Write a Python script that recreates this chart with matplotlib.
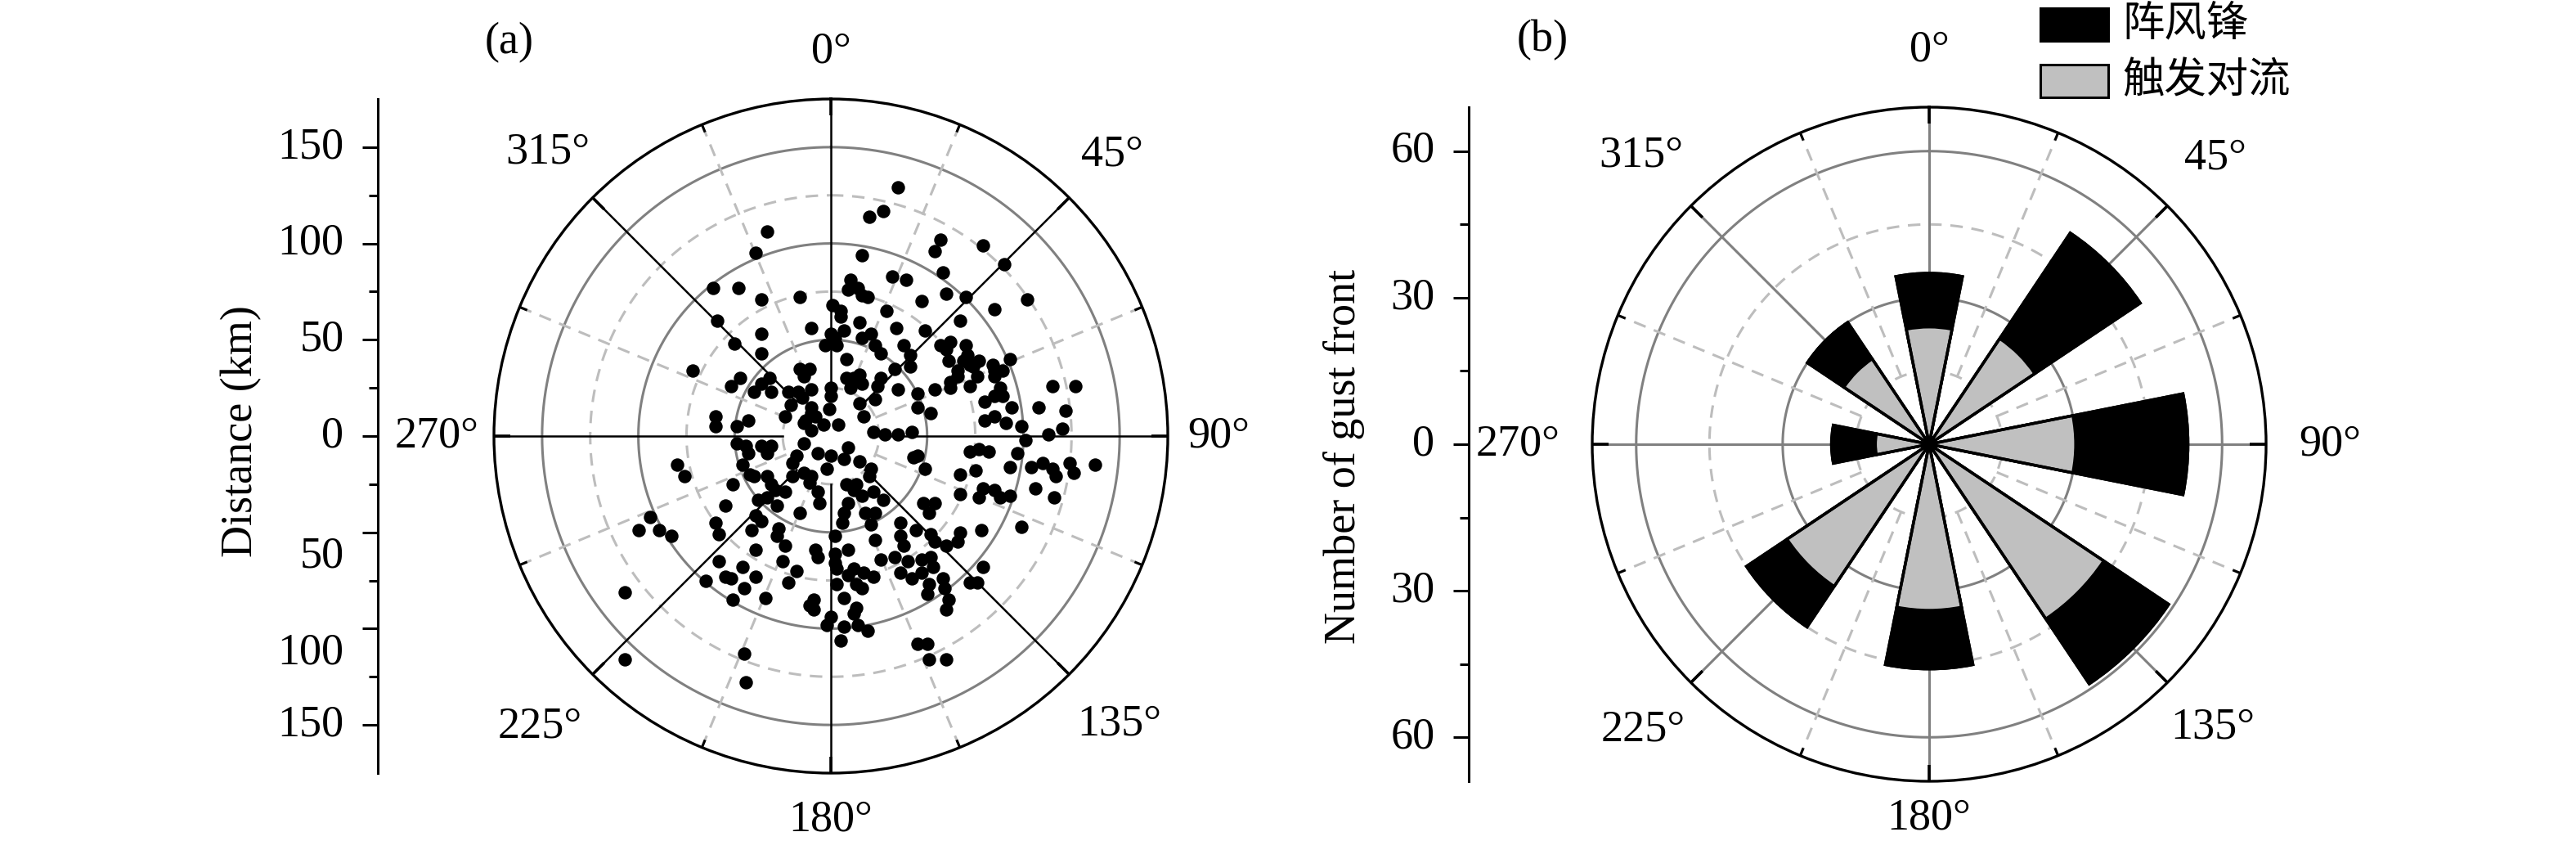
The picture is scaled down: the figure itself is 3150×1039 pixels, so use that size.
import numpy as np
import matplotlib
matplotlib.use("Agg")
import matplotlib.pyplot as plt
from matplotlib.patches import Rectangle

plt.rcParams['font.family'] = ['Liberation Serif', 'Noto Sans CJK SC']

# ---- panel (a): gust front positions, east / north offset in km ----
east_km = [35, 27, 20, -33, -39, 57, 54, 79, 16, 90, 58, 32, 39, -61, -48, -36, -16, 10, 9, 14,
           16, 19, 60, 70, 102, 47, 1, 5, 5, 29, 85, -59, 15, -10, 34, 67, 7, -36, 49, 21,
           16, 0, 2, -50, -3, 3, 23, 38, 57, 62, 70, -36, 26, 8, 41, 60, 71, 61, 69, 72,
           77, 74, 84, 93, 41, 33, -16, -11, -14, -72, 66, 66, 62, 76, 85, 89, 85, 15, 8, 12,
           16, 10, 26, -47, -52, -36, -32, -40, -31, -22, -17, -10, 0, 24, 35, 54, 62, 72, 88, 115,
           127, 45, 85, 89, 80, 0, -15, -21, -10, -1, 15, 23, 45, 94, 108, -10, 122, 52, -60, -43,
           -24, -13, -8, 17, 80, 85, 91, -60, -49, -14, -4, 4, 99, 120, -10, 22, 28, 35, 42, 113,
           -49, -44, -36, -31, -43, -33, -46, -42, -33, -40, -80, -76, -51, -31, -29, -24, -38, -33, -55, -28,
           -39, -36, -16, -94, -100, -89, -83, -60, -58, -41, -27, -28, -24, -39, -58, -46, -25, -18, -55, -52,
           -39, -65, -22, -45, -34, -51, -107, -9, -11, -9, -107, -45, -44, -14, -7, 0, 9, 7, 15, -18,
           -20, -2, -14, -10, -20, -11, 21, 20, 8, 13, 12, 16, 22, 27, -7, -6, 9, 7, 6, 18,
           23, 21, 2, 23, 36, 36, 44, 52, -8, -7, 2, 2, 9, 3, 12, 26, 33, 38, 40, 47,
           52, 54, 60, 66, 67, 53, 36, 42, 47, 22, 17, 9, 13, 16, 3, 58, 59, 51, 50, 61,
           60, 7, 13, 12, 0, -2, 7, 14, 19, 5, 45, 50, 51, 60, 43, 45, 49, 48, 54, 51,
           72, 77, 82, 75, 67, 67, 77, 79, 85, 88, 93, 78, 97, 93, 104, 110, 115, 117, 124, 126,
           137, 106, 116, 99, 79, 72, 76, 101]
north_km = [129, 117, 114, 106, 95, 102, 96, 99, 94, 89, 85, 83, 81, 77, 77, 71, 72, 81, 76, 77,
            73, 72, 74, 72, 71, 70, 68, 65, 62, 65, 66, 60, 59, 56, 56, 60, 55, 53, 55, 53,
            51, 53, 51, 48, 47, 47, 47, 47, 47, 49, 47, 43, 43, 40, 42, 45, 42, 39, 39, 37,
            39, 36, 37, 40, 36, 35, 35, 35, 31, 34, 34, 31, 28, 31, 34, 34, 31, 32, 30, 30,
            27, 25, 30, 30, 26, 27, 30, 23, 23, 23, 23, 24, 25, 26, 24, 24, 25, 26, 25, 26,
            26, 22, 21, 21, 18, 21, 20, 16, 15, 14, 17, 19, 15, 15, 15, 12, 13, 12, 10, 8,
            10, 8, 10, 10, 8, 10, 7, 5, 5, 7, 6, 6, 5, 4, 3, 2, 1, 1, 2, 1,
            -4, -5, -5, -5, -9, -9, -15, -20, -21, -21, -15, -21, -25, -25, -28, -29, -33, -32, -36, -36,
            -41, -44, -40, -42, -49, -49, -52, -45, -51, -49, -48, -52, -57, -59, -65, -68, -65, -70, -73, -74,
            -73, -75, -76, -79, -84, -85, -81, -85, -88, -90, -116, -113, -128, -4, -9, -10, -6, -12, -13, -10,
            -14, -17, -19, -21, -21, -24, -17, -21, -25, -25, -28, -31, -29, -33, -29, -35, -35, -40, -45, -40,
            -40, -46, -52, -54, -45, -52, -49, -51, -59, -63, -61, -66, -59, -69, -69, -64, -63, -57, -65, -64,
            -63, -55, -57, -55, -50, -68, -71, -74, -71, -73, -71, -72, -77, -79, -77, -74, -79, -77, -82, -85,
            -90, -84, -89, -92, -94, -98, -99, -98, -101, -106, -108, -108, -116, -116, -11, -10, -17, -35, -35, -40,
            -8, -7, -8, -18, -20, -30, -32, -27, -28, -32, -31, -49, -9, -16, -16, -14, -17, -21, -14, -19,
            -15, -27, -32, -47, -68, -76, -76, -2]

# ---- panel (b): counts per direction ----
directions = [0, 45, 90, 135, 180, 225, 270, 315]
gust_front = [35, 52, 53, 59, 46, 45, 20, 30]
triggered = [24, 26, 30, 43, 34, 35, 11, 21]

angle_labels = ['0°', '45°', '90°', '135°', '180°', '225°', '270°', '315°']
dist_ticks = [-150, -100, -50, 0, 50, 100, 150]
count_ticks = [-60, -30, 0, 30, 60]

R_A = 175
R_B = 69
GRAY = '#808080'
LIGHT = '#bdbdbd'
FS = 39

fig = plt.figure(figsize=(31.5, 10.39), dpi=100)


def polar_frame(ax, rmax, step, spoke_color, spoke_lw, label_r):
    ax.set_theta_zero_location('N')
    ax.set_theta_direction(-1)
    ax.set_ylim(0, rmax)
    ax.set_xticks([])
    ax.set_yticks([])
    ax.grid(False)
    ax.spines['polar'].set_linewidth(2.4)
    th = np.linspace(0, 2 * np.pi, 721)
    for k in range(1, 7):
        r = k * step / 2
        if k % 2 == 0:
            ax.plot(th, np.full_like(th, r), color=GRAY, lw=2.2, zorder=1)
        else:
            ax.plot(th, np.full_like(th, r), color=LIGHT, lw=2.2, dashes=(5, 3.5), zorder=1)
    for d in range(0, 360, 45):
        t = np.deg2rad(d)
        ax.plot([t, t], [step / 2, rmax], color=spoke_color, lw=spoke_lw, zorder=1.5)
        ax.plot([t, t], [rmax * (1 - 20 / 412), rmax], color='black', lw=2.6, zorder=3,
                solid_capstyle='butt')
        t2 = np.deg2rad(d + 22.5)
        ax.plot([t2, t2], [step / 2, rmax], color=LIGHT, lw=2.2, dashes=(5, 3.5), zorder=1)
        ax.plot([t2, t2], [rmax * (1 - 10 / 412), rmax], color='black', lw=2.2, zorder=3,
                solid_capstyle='butt')
    for d, lab, f in zip(directions, angle_labels, label_r):
        ax.text(np.deg2rad(d), rmax * f, lab, ha='center', va='center', fontsize=FS,
                clip_on=False)


# ---- (a) scatter ----
axa = fig.add_axes([0.19175, 0.09047, 0.26159, 0.79307], projection='polar')
polar_frame(axa, R_A, 50, 'black', 1.8, [1.14, 1.18, 1.15, 1.21, 1.14, 1.22, 1.17, 1.19])
e = np.array(east_km, dtype=float)
n = np.array(north_km, dtype=float)
axa.scatter(np.arctan2(e, n), np.hypot(e, n), s=140, color='black', lw=0, zorder=4)

# ---- (b) rose ----
axb = fig.add_axes([0.61810, 0.08085, 0.26159, 0.79307], projection='polar')
polar_frame(axb, R_B, 30, GRAY, 2.2, [1.17, 1.2, 1.19, 1.19, 1.11, 1.2, 1.22, 1.21])
th_b = np.deg2rad(directions)
w = np.deg2rad(22.5)
axb.bar(th_b, gust_front, width=w, color='black', edgecolor='black', lw=2.5, zorder=4)
axb.bar(th_b, triggered, width=w, color='#c0c0c0', edgecolor='black', lw=2.5, zorder=5)
axb.bar(th_b, gust_front, width=w, fill=False, edgecolor='black', lw=2.5, zorder=6)

# ---- radial scales on the left ----
la = fig.add_axes([0.14667, 0.09047, 0.0001, 0.79307])
la.set_ylim(-R_A, R_A)
lb = fig.add_axes([0.57016, 0.08085, 0.0001, 0.79307])
lb.set_ylim(-R_B, R_B)
for ax, ticks, minor, shift in [
        (la, dist_ticks, [-125, -75, -25, 25, 75, 125], {-50: -12.5, -100: -12.5}),
        (lb, count_ticks, [-45, -15, 15, 45], {})]:
    for s in ['top', 'right', 'bottom']:
        ax.spines[s].set_visible(False)
    ax.spines['left'].set_linewidth(2.2)
    ax.set_xticks([])
    ax.set_yticks(ticks)
    ax.set_yticks(minor, minor=True)
    ax.set_yticklabels([])
    ax.tick_params(axis='y', which='major', length=14, width=2.2)
    ax.tick_params(axis='y', which='minor', length=8, width=2.2)
    ax.patch.set_visible(False)
    for t in ticks:
        ax.annotate(str(abs(t)), xy=(0, t + shift.get(t, 0)),
                    xycoords=ax.get_yaxis_transform(), xytext=(-30, 0),
                    textcoords='offset points', ha='right', va='center', fontsize=FS)

fig.text(0.0937, 0.493, 'Distance (km)', rotation=90, ha='center', va='center', fontsize=FS)
fig.text(0.5216, 0.463, 'Number of gust front', rotation=90, ha='center', va='center',
         fontsize=FS)
fig.text(0.1978, 0.95, '(a)', ha='center', va='center', fontsize=FS)
fig.text(0.5987, 0.953, '(b)', ha='center', va='center', fontsize=FS)

# ---- legend ----
fig.add_artist(Rectangle((0.792, 0.9519), 0.02635, 0.0385, transform=fig.transFigure,
                         facecolor='black', edgecolor='black', lw=2.2))
fig.add_artist(Rectangle((0.792, 0.8855), 0.02635, 0.0385, transform=fig.transFigure,
                         facecolor='#c0c0c0', edgecolor='black', lw=2.2))
fig.text(0.824, 0.971, '阵风锋', ha='left', va='center', fontsize=37)
fig.text(0.824, 0.904, '触发对流', ha='left', va='center', fontsize=37)

fig.savefig('out.png', dpi=100)
